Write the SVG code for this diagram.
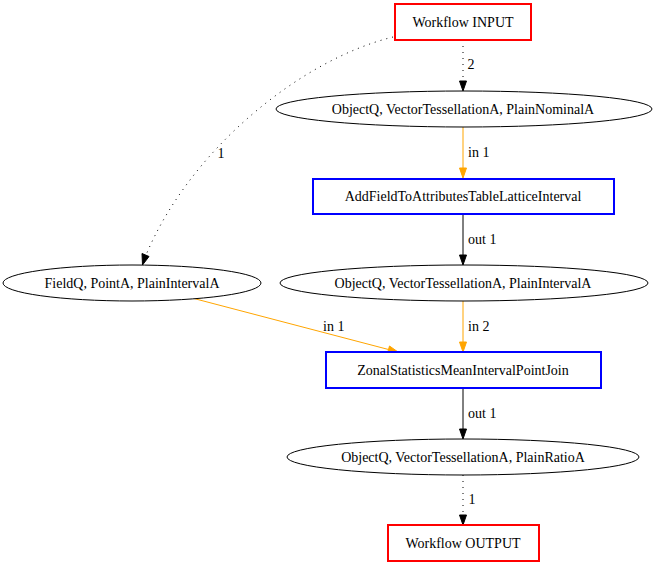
<svg xmlns="http://www.w3.org/2000/svg" width="655" height="566" viewBox="0 0 655 566" font-family="Liberation Serif" font-size="14">
<style>
.n{text-anchor:middle}
.io{fill:#fff;stroke:#ff0000;stroke-width:2}
.op{fill:#fff;stroke:#0000ff;stroke-width:2}
.dt{fill:#fff;stroke:#000;stroke-width:1}
.e{fill:none;stroke-width:1}
.k{stroke:#000}
.o{stroke:#ffa500}
.d{stroke-dasharray:1,5}
.ak{fill:#000;stroke:#000}
.ao{fill:#ffa500;stroke:#ffa500}
</style>
<rect width="655" height="566" fill="#fff"/>
<g id="connectors">
<path class="e k d" d="M393,37 C300,60 190,150 146,255"/>
<polygon class="ak" points="142.5,265 142,253.5 149,256.5"/>
<text x="221" y="158" class="n">1</text>
<path class="e k d" d="M463,40 L463,81"/>
<polygon class="ak" points="463,91 459.5,81 466.5,81"/>
<text x="471" y="69" class="n">2</text>
<path class="e o" d="M463,127 L463,168"/>
<polygon class="ao" points="463,178 459.5,168 466.5,168"/>
<text x="468" y="157">in 1</text>
<path class="e k" d="M463,214 L463,255"/>
<polygon class="ak" points="463,265 459.5,255 466.5,255"/>
<text x="468" y="244">out 1</text>
<path class="e o" d="M463,301 L463,342"/>
<polygon class="ao" points="463,352 459.5,342 466.5,342"/>
<text x="468" y="331">in 2</text>
<path class="e o" d="M192,298 L388.5,349.5"/>
<polygon class="ao" points="398,352 387.5,353 389.5,346"/>
<text x="323" y="331">in 1</text>
<path class="e k" d="M463,388 L463,429"/>
<polygon class="ak" points="463,439 459.5,429 466.5,429"/>
<text x="468" y="418">out 1</text>
<path class="e k d" d="M463,475 L463,515"/>
<polygon class="ak" points="463,525 459.5,515 466.5,515"/>
<text x="472" y="504" class="n">1</text>
</g>
<g id="n_input">
<rect class="io" x="395" y="4" width="136" height="36"/>
<text x="463" y="27" class="n">Workflow INPUT</text>
</g>
<g id="n_nominal">
<ellipse class="dt" cx="464" cy="109" rx="188" ry="18"/>
<text x="463" y="114" class="n">ObjectQ, VectorTessellationA, PlainNominalA</text>
</g>
<g id="n_addfield">
<rect class="op" x="313" y="179" width="301" height="35"/>
<text x="463" y="201" class="n">AddFieldToAttributesTableLatticeInterval</text>
</g>
<g id="n_interval">
<ellipse class="dt" cx="464" cy="283" rx="184" ry="18"/>
<text x="463" y="288" class="n">ObjectQ, VectorTessellationA, PlainIntervalA</text>
</g>
<g id="n_field">
<ellipse class="dt" cx="132" cy="283" rx="129" ry="18"/>
<text x="132" y="288" class="n">FieldQ, PointA, PlainIntervalA</text>
</g>
<g id="n_zonal">
<rect class="op" x="326" y="352" width="275" height="36"/>
<text x="463" y="375" class="n">ZonalStatisticsMeanIntervalPointJoin</text>
</g>
<g id="n_ratio">
<ellipse class="dt" cx="463" cy="457" rx="176" ry="18"/>
<text x="463" y="462" class="n">ObjectQ, VectorTessellationA, PlainRatioA</text>
</g>
<g id="n_output">
<rect class="io" x="388" y="525" width="151" height="36"/>
<text x="463" y="548" class="n">Workflow OUTPUT</text>
</g>
</svg>
